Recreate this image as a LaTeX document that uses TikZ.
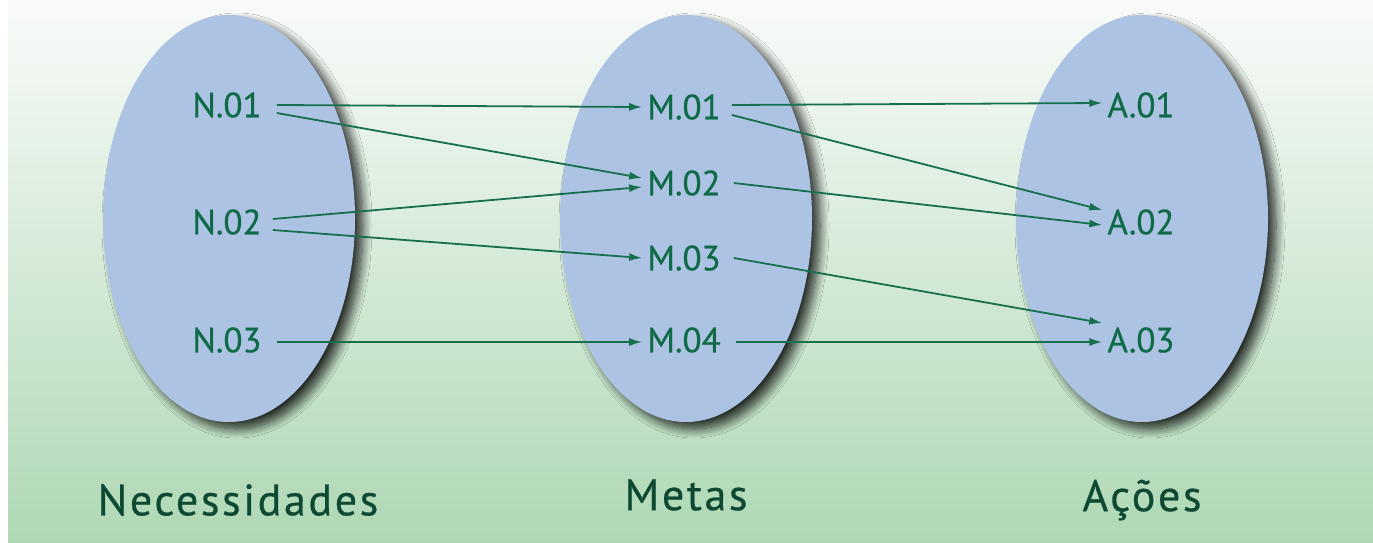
\documentclass[tikz,border=0pt]{standalone}
\usepackage{fontspec}
\setmainfont{PT Sans}[FakeBold=0.6]
\usetikzlibrary{shadows.blur,arrows.meta,shapes.geometric}
\definecolor{bgtop}{HTML}{F9FBF9}
\definecolor{bgbot}{HTML}{AED8B4}
\definecolor{ellfill}{HTML}{ADC3E4}
\definecolor{txtgreen}{HTML}{0F6B47}
\definecolor{titlegreen}{HTML}{0E4A33}
\definecolor{arrowgreen}{HTML}{17704D}
\tikzset{
  setell/.style={ellipse,fill=ellfill,minimum width=252pt,minimum height=407pt,inner sep=0pt,
    blur shadow={shadow xshift=8pt,shadow yshift=-7pt,shadow blur radius=9pt,shadow opacity=80,
      shadow blur steps=12}},
  item/.style={text=txtgreen,font=\fontsize{35}{36}\selectfont,inner sep=0pt},
  title/.style={text=titlegreen,font=\addfontfeature{LetterSpace=6}\fontsize{44}{46}\selectfont,inner sep=0pt},
  link/.style={draw=arrowgreen,line width=1.8pt,-{Latex[length=13pt,width=8pt]}},
}
\begin{document}
\begin{tikzpicture}[x=1pt,y=-1pt]
\useasboundingbox (0,0) rectangle (1373,543);
\shade[top color=bgtop,bottom color=bgbot] (8,0) rectangle (1373,543);
\node[setell] (EN) at (229,218.5) {};
\node[setell] (EM) at (686,218.5) {};
\node[setell] (EA) at (1142,218.5) {};
\node[item] (N1) at (227,105) {N.01};
\node[item] (N2) at (227,222) {N.02};
\node[item] (N3) at (227,340) {N.03};
\node[item] (M1) at (684,107) {M.01};
\node[item] (M2) at (684,183) {M.02};
\node[item] (M3) at (684,258) {M.03};
\node[item] (M4) at (684,340) {M.04};
\node[item] (A1) at (1141,105) {A.01};
\node[item] (A2) at (1141,222) {A.02};
\node[item] (A3) at (1141,340) {A.03};
\node[title] (TN) at (238,500) {Necessidades};
\node[title] (TM) at (686,495) {Metas};
\node[title] (TA) at (1142,500) {Ações};
\path[link] ([xshift=15pt,yshift=0pt]N1.east) -- ([xshift=-5pt,yshift=0pt]M1.west);
\path[link] ([xshift=15pt,yshift=-8pt]N1.east) -- ([xshift=-5pt,yshift=5pt]M2.west);
\path[link] ([xshift=11pt,yshift=3pt]N2.east) -- ([xshift=-5pt,yshift=-4pt]M2.west);
\path[link] ([xshift=11pt,yshift=-8pt]N2.east) -- ([xshift=-5pt,yshift=0pt]M3.west);
\path[link] ([xshift=15pt,yshift=-2pt]N3.east) -- ([xshift=-5pt,yshift=-2pt]M4.west);
\path[link] ([xshift=11pt,yshift=2pt]M1.east) -- ([xshift=-5pt,yshift=2pt]A1.west);
\path[link] ([xshift=11pt,yshift=-8pt]M1.east) -- ([xshift=-5pt,yshift=12pt]A2.west);
\path[link] ([xshift=13pt,yshift=0pt]M2.east) -- ([xshift=-5pt,yshift=-3pt]A2.west);
\path[link] ([xshift=13pt,yshift=0pt]M3.east) -- ([xshift=-5pt,yshift=17pt]A3.west);
\path[link] ([xshift=15pt,yshift=-2pt]M4.east) -- ([xshift=-5pt,yshift=-2pt]A3.west);
\end{tikzpicture}
\end{document}
